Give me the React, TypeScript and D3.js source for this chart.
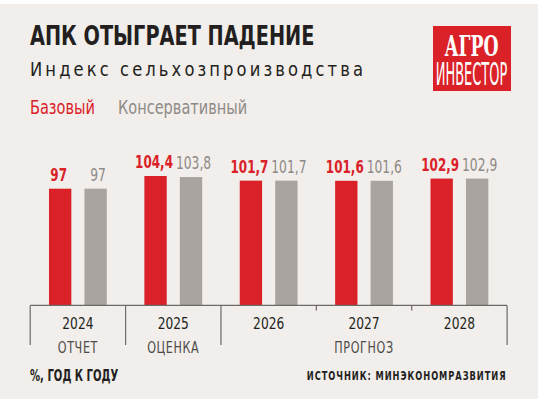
import { useEffect, useRef } from 'react';
import * as d3 from 'd3';

const years = ['2024', '2025', '2026', '2027', '2028'];
const baseValues = [97, 104.4, 101.7, 101.6, 102.9];
const consValues = [97, 103.8, 101.7, 101.6, 102.9];
const seriesNames = ['Базовый', 'Консервативный'];
const periodGroups = [
  { label: 'ОТЧЕТ', from: 0, to: 0 },
  { label: 'ОЦЕНКА', from: 1, to: 1 },
  { label: 'ПРОГНОЗ', from: 2, to: 4 },
];

const RED = '#da2128';
const GRAY = '#a9a49f';
const GRAY_TEXT = '#8f8a86';
const BG = '#f1eeeb';
const DARK = '#231f20';
const FONT = "'DejaVu Sans Condensed', 'DejaVu Sans', sans-serif";

const fmt = (v: number) => String(v).replace('.', ',');

// condensed look: the text is drawn at (0,0) and squeezed horizontally around its anchor
const place = (px: number, py: number, sx: number) => `translate(${px},${py}) scale(${sx},1)`;

const App = () => {
  const ref = useRef<SVGSVGElement>(null);

  useEffect(() => {
    const width = 538;
    const height = 399;
    const svg = d3.select(ref.current);
    svg.selectAll('*').remove();

    svg.append('rect').attr('width', width).attr('height', height).attr('fill', '#fff');
    svg.append('rect').attr('y', 4).attr('width', width).attr('height', height - 4).attr('fill', BG);

    // headings
    svg.append('text').attr('transform', place(30, 44.5, 0.825))
      .attr('font-family', FONT).attr('font-weight', 700).attr('font-size', 26)
      .attr('fill', DARK).text('АПК ОТЫГРАЕТ ПАДЕНИЕ');
    svg.append('text').attr('transform', place(30, 76, 0.91))
      .attr('font-family', FONT).attr('font-size', 20).attr('letter-spacing', 3.4)
      .attr('fill', DARK).text('Индекс сельхозпроизводства');

    const legend = svg.append('g').attr('font-family', FONT).attr('font-size', 19);
    legend.append('text').attr('transform', place(30, 114, 0.85)).attr('fill', RED).text(seriesNames[0]);
    legend.append('text').attr('transform', place(118, 114, 0.85)).attr('fill', GRAY_TEXT).text(seriesNames[1]);

    // logo
    const logo = svg.append('g');
    logo.append('rect').attr('x', 433).attr('y', 26).attr('width', 78).attr('height', 65).attr('fill', RED);
    logo.append('text').attr('transform', place(471.5, 55.5, 0.64)).attr('text-anchor', 'middle')
      .attr('font-family', "'DejaVu Serif', 'Liberation Serif', serif").attr('font-weight', 700)
      .attr('font-size', 27).attr('fill', '#fff').text('АГРО');
    logo.append('text').attr('transform', place(471.5, 85, 0.45)).attr('text-anchor', 'middle')
      .attr('font-family', FONT).attr('font-size', 32).attr('fill', '#fff').text('ИНВЕСТОР');

    // scales
    const x = d3.scaleBand().domain(years).range([30.2, 507.1]).paddingInner(0).paddingOuter(0);
    const inner = d3.scaleBand().domain(['base', 'cons']).range([0, x.bandwidth()])
      .paddingInner(0.37).paddingOuter(0.53);
    const y = d3.scaleLinear().domain([29, 104.4]).range([305.4, 176]);

    const rows = years.map((yr, i) => ({ yr, base: baseValues[i], cons: consValues[i] }));

    const groups = svg.append('g').selectAll('g').data(rows).join('g')
      .attr('transform', (d) => `translate(${x(d.yr)},0)`);

    groups.append('rect').attr('x', inner('base')!).attr('width', inner.bandwidth())
      .attr('y', (d) => y(d.base)).attr('height', (d) => y(29) - y(d.base)).attr('fill', RED);
    groups.append('rect').attr('x', inner('cons')!).attr('width', inner.bandwidth())
      .attr('y', (d) => y(d.cons)).attr('height', (d) => y(29) - y(d.cons)).attr('fill', GRAY);

    const cx = (k: string) => inner(k)! + inner.bandwidth() / 2;
    groups.append('text')
      .attr('transform', (d) => place(cx('base') - 1.5, y(d.base) - 8, 0.72)).attr('text-anchor', 'middle')
      .attr('font-family', FONT).attr('font-weight', 700).attr('font-size', 18.5)
      .attr('fill', RED).text((d) => fmt(d.base));
    groups.append('text')
      .attr('transform', (d) => place(cx('cons') + 2.5, y(d.cons) - 8, 0.74)).attr('text-anchor', 'middle')
      .attr('font-family', FONT).attr('font-size', 18.5)
      .attr('fill', GRAY_TEXT).text((d) => fmt(d.cons));

    // axis
    const axis = svg.append('g').attr('stroke', '#6d6966').attr('stroke-width', 1.2);
    const [x0, x1] = x.range();
    axis.append('line').attr('x1', x0).attr('x2', x1).attr('y1', 305.4).attr('y2', 305.4);
    const bounds = new Set<number>([0, 5]);
    periodGroups.forEach((g) => { bounds.add(g.from); bounds.add(g.to + 1); });
    d3.range(0, 6).forEach((i) => {
      const px = x0 + i * x.bandwidth();
      axis.append('line').attr('x1', px).attr('x2', px).attr('y1', 305.4)
        .attr('y2', bounds.has(i) ? 345 : 310.6);
    });

    svg.append('g').selectAll('text').data(years).join('text')
      .attr('transform', (d) => place(x(d)! + x.bandwidth() / 2, 329, 0.85))
      .attr('text-anchor', 'middle').attr('font-family', FONT).attr('font-size', 16)
      .attr('fill', DARK).text((d) => d);

    svg.append('g').selectAll('text').data(periodGroups).join('text')
      .attr('transform', (d) => place((x(years[d.from])! + x(years[d.to])! + x.bandwidth()) / 2, 353, 0.8))
      .attr('text-anchor', 'middle').attr('font-family', FONT).attr('font-size', 15.5)
      .attr('letter-spacing', 0.8).attr('fill', '#4d4a48').text((d) => d.label);

    // footer
    svg.append('text').attr('transform', place(30, 381, 0.7))
      .attr('font-family', FONT).attr('font-weight', 700).attr('font-size', 16)
      .attr('fill', DARK).text('%, ГОД К ГОДУ');
    svg.append('text').attr('transform', place(506.5, 380, 0.8)).attr('text-anchor', 'end')
      .attr('font-family', FONT).attr('font-weight', 700).attr('font-size', 11.5)
      .attr('letter-spacing', 1.2).attr('fill', DARK).text('ИСТОЧНИК: МИНЭКОНОМРАЗВИТИЯ');
  }, []);

  return (
    <svg ref={ref} width={538} height={399}
      style={{ position: 'absolute', left: 0, top: 0, display: 'block' }} />
  );
};

export default App;
